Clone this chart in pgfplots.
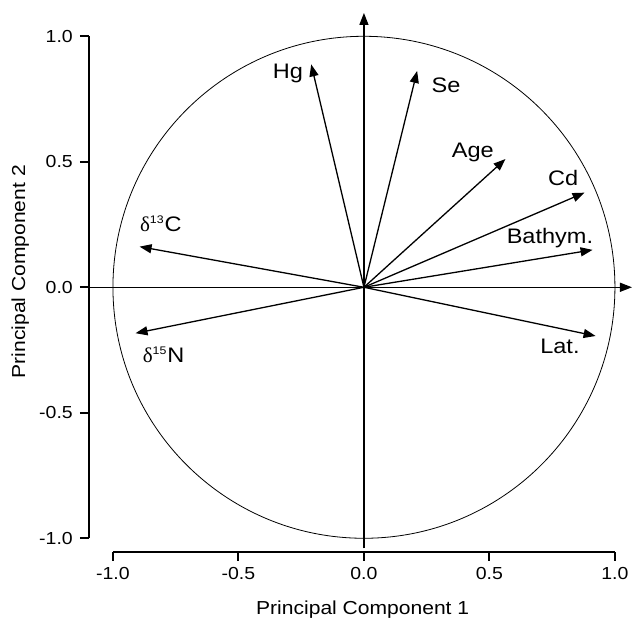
\documentclass[border=0pt]{standalone}
\usepackage{fontspec}
\setmainfont[FakeStretch=1.12]{Liberation Sans}
\newfontfamily\serifdelta{Liberation Serif}
\usepackage{pgfplots}
\pgfplotsset{compat=1.18}
\usepackage{pgfplotstable}
\usetikzlibrary{arrows.meta}
\pgfplotstableread{
x y u v
0 0 -0.210 0.888
0 0 0.212 0.862
0 0 0.564 0.511
0 0 0.879 0.377
0 0 0.911 0.149
0 0 -0.894 0.162
0 0 -0.910 -0.183
0 0 0.923 -0.194
}\loadings
\newcommand{\dlt}{{\serifdelta δ}}
\begin{document}
\begin{tikzpicture}
\begin{axis}[
  x=125.5pt, y=125.5pt,
  xmin=-1.096, xmax=1.07, ymin=-1.053, ymax=1.10,
  clip=false,
  axis line style={draw=none},
  tick pos=left,
  tick align=outside,
  major tick length=4.5pt,
  xtick={-1,-0.5,0,0.5,1},
  ytick={-1,-0.5,0,0.5,1},
  tick style={black, line width=1pt},
  ticklabel style={font=\fontsize{8.7}{10}\selectfont},
  /pgf/number format/.cd, fixed, fixed zerofill, precision=1, assume math mode=true,
  /pgfplots/.cd,
  xlabel={Principal Component 1},
  ylabel={Principal Component 2},
  label style={font=\fontsize{9.4}{11}\selectfont},
  xlabel style={at={(axis description cs:0.5037,-0.108)}, anchor=center},
  ylabel style={at={(axis description cs:-0.126,0.518)}, anchor=center},
]
% axis lines (offset)
\draw[line width=1pt] (axis cs:-1.096,-1) -- (axis cs:-1.096,1);
\draw[line width=1pt] (axis cs:-1,-1.053) -- (axis cs:1,-1.053);
% circle
\draw[line width=0.4pt] (axis cs:0,0) circle[radius=125.5pt];
% centre lines
\draw[line width=0.65pt, -{Triangle[length=6pt,width=4.5pt]}] (axis cs:0,-1.04) -- (axis cs:0,1.093);
\draw[line width=0.65pt, -{Triangle[length=6pt,width=4.5pt]}] (axis cs:-1.096,0) -- (axis cs:1.068,0);
% loadings
\addplot[black, line width=0.65pt, -{Triangle[length=6pt,width=4.5pt]},
  quiver={u=\thisrow{u}, v=\thisrow{v}}] table[x=x,y=y] {\loadings};
% labels
\begin{scope}[every node/.style={font=\fontsize{10.5}{12}\selectfont, inner sep=0pt}]
\node at (axis cs:-0.303,0.853) {Hg};
\node at (axis cs:0.327,0.806) {Se};
\node at (axis cs:0.434,0.536) {Age};
\node at (axis cs:0.794,0.434) {Cd};
\node at (axis cs:0.741,0.198) {Bathym.};
\node at (axis cs:-0.809,0.252) {\dlt\textsuperscript{\fontsize{5.5}{6}\selectfont 13}C};
\node at (axis cs:-0.798,-0.270) {\dlt\textsuperscript{\fontsize{5.5}{6}\selectfont 15}N};
\node at (axis cs:0.781,-0.237) {Lat.};
\end{scope}
\coordinate (bl) at (axis cs:-1.450,-1.3335);
\coordinate (tr) at (axis cs:1.076,1.1446);
\end{axis}
\pgfresetboundingbox
\path (bl) rectangle (tr);
\end{tikzpicture}
\end{document}
